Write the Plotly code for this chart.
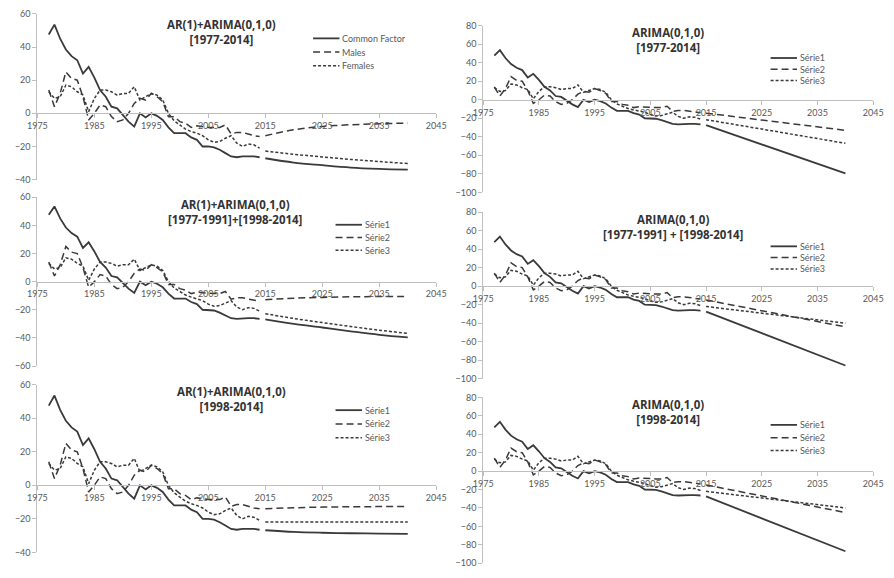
import plotly.graph_objects as go

# ---------------------------------------------------------------- data
hist_years = list(range(1977, 2015))

common_factor = [47.5, 53.5, 45, 38.5, 34.5, 32, 24, 28, 21.5, 14,
                 10, 4, 3, -1, -5, -8, 0, -2.5, 0, -1.5,
                 -4, -8.5, -12, -12, -12, -14.5, -16, -20, -20, -20.5,
                 -22, -24, -26, -26.5, -26, -26, -26, -26.5]
males = [14, 4, 12, 25, 21, 20, 10, -4, 0, 5,
         4, -2, -5, -4, 0, 6, 9, 8, 12, 10,
         7, -2, -2, -5, -6, -8.5, -7.5, -8, -8.5, -8.5,
         -8.5, -7, -12.5, -11.5, -11.5, -12.5, -13.5, -14]
females = [13, 9, 10, 17, 16, 13, 11, 1, 9, 14,
           14, 13, 11, 12, 12, 16, 8, 10, 12, 11,
           8, 0, -4.5, -7, -9.5, -11, -12, -13.5, -16, -17.5,
           -17, -15, -13.5, -18, -20, -18.5, -19, -21]

# AR(1)+ARIMA(0,1,0) projections, read every five years
curve_years = [2015, 2020, 2025, 2030, 2035, 2040]
ar_full_cf = [-27.1, -29.7, -31.3, -32.7, -33.5, -34.0]
ar_full_m = [-13.5, -9.9, -7.9, -6.9, -6.3, -5.9]
ar_full_f = [-22.8, -24.7, -26.3, -27.8, -29.1, -30.3]

ar_split_cf = [-26.8, -30.0, -32.6, -35.3, -37.8, -39.6]
ar_split_m = [-12.8, -11.8, -11.2, -10.8, -10.6, -10.5]
ar_split_f = [-22.8, -26.2, -29.1, -31.9, -34.5, -36.8]

ar_recent_cf = [-26.8, -27.8, -28.3, -28.6, -28.8, -28.9]
ar_recent_m = [-14.0, -13.4, -13.0, -12.8, -12.7, -12.7]
ar_recent_f = [-21.9, -21.9, -21.9, -21.9, -21.9, -21.9]

# ARIMA(0,1,0) projections are straight lines: start and end values
line_years = [2015, 2040]
arima_full_s1 = [-27.5, -79.4]
arima_full_s2 = [-14.5, -33.0]
arima_full_s3 = [-21.5, -47.0]

arima_split_s1 = [-27.5, -85.7]
arima_split_s2 = [-15.0, -44.0]
arima_split_s3 = [-22.0, -40.0]

arima_recent_s1 = [-27.5, -87.0]
arima_recent_s2 = [-15.0, -45.0]
arima_recent_s3 = [-22.0, -40.0]

x_ticks = [1975, 1985, 1995, 2005, 2015, 2025, 2035, 2045]
x_tick_text = ["1975", "1985", "1995", "2005", "2015", "2025", "2035", "2045"]

sexes_names = ["Common Factor", "Males", "Females"]
serie_names = ["Série1", "Série2", "Série3"]

# ---------------------------------------------------------------- styling
W, H = 894, 578
INK = "#3a3a3a"
AXIS = "#bfbfbf"
LABEL = "#595959"
FONT = "Lato"
TITLE_FONT = "Open Sans"
STYLES = [
    dict(dash="solid", width=1.8),
    dict(dash="7px,4px", width=1.5),
    dict(dash="3px,2px", width=1.5),
]
COLS = [(28, 436), (484, 883)]

panels = [
    dict(col=0, top=8, bottom=177, yr=(-40, 60),
         title=("AR(1)+ARIMA(0,1,0)", "[1977-2014]"), tx=216, ty=26,
         names=sexes_names, lx=310, ly=(33, 47, 61),
         fx=curve_years, fc=(ar_full_cf, ar_full_m, ar_full_f), shape="spline"),
    dict(col=0, top=195, bottom=367, yr=(-60, 60),
         title=("AR(1)+ARIMA(0,1,0)", "[1977-1991]+[1998-2014]"), tx=230, ty=210,
         names=serie_names, lx=333, ly=(223, 236, 249),
         fx=curve_years, fc=(ar_split_cf, ar_split_m, ar_split_f), shape="spline"),
    dict(col=0, top=386, bottom=557, yr=(-40, 60),
         title=("AR(1)+ARIMA(0,1,0)", "[1998-2014]"), tx=227, ty=401,
         names=serie_names, lx=333, ly=(412, 426, 440),
         fx=curve_years, fc=(ar_recent_cf, ar_recent_m, ar_recent_f), shape="spline"),
    dict(col=1, top=20, bottom=190, yr=(-100, 80),
         title=("ARIMA(0,1,0)", "[1977-2014]"), tx=673, ty=35,
         names=serie_names, lx=778, ly=(53, 64.5, 76),
         fx=line_years, fc=(arima_full_s1, arima_full_s2, arima_full_s3), shape="linear"),
    dict(col=1, top=210, bottom=380, yr=(-100, 80),
         title=("ARIMA(0,1,0)", "[1977-1991] + [1998-2014]"), tx=678, ty=225,
         names=serie_names, lx=778, ly=(245, 256.5, 268),
         fx=line_years, fc=(arima_split_s1, arima_split_s2, arima_split_s3), shape="linear"),
    dict(col=1, top=399, bottom=568, yr=(-100, 80),
         title=("ARIMA(0,1,0)", "[1998-2014]"), tx=673, ty=414,
         names=serie_names, lx=778, ly=(427, 440, 453),
         fx=line_years, fc=(arima_recent_s1, arima_recent_s2, arima_recent_s3), shape="linear"),
]

history = [common_factor, males, females]

fig = go.Figure()
layout = dict(
    width=W, height=H, margin=dict(l=0, r=0, t=0, b=0),
    paper_bgcolor="white", plot_bgcolor="white", showlegend=False,
    font=dict(family=FONT, size=9, color=LABEL),
)
annotations = []
shapes = []

for i, p in enumerate(panels, start=1):
    xid = "x" if i == 1 else f"x{i}"
    yid = "y" if i == 1 else f"y{i}"
    xkey = "xaxis" if i == 1 else f"xaxis{i}"
    ykey = "yaxis" if i == 1 else f"yaxis{i}"
    left, right = COLS[p["col"]]
    ymin, ymax = p["yr"]
    top, bottom = p["top"], p["bottom"]
    zero_px = top + (ymax - 0) / (ymax - ymin) * (bottom - top)

    # horizontal axis crosses the vertical one at zero
    layout[xkey] = dict(
        domain=[left / W, right / W], range=[1975, 2045],
        anchor="free", position=1 - zero_px / H,
        tickvals=x_ticks, ticktext=x_tick_text,
        ticks="outside", ticklen=4, tickcolor=AXIS, tickwidth=1,
        showline=True, linecolor=AXIS, linewidth=1,
        showgrid=False, zeroline=False,
        tickfont=dict(family=FONT, size=9, color=LABEL),
    )
    layout[ykey] = dict(
        domain=[1 - bottom / H, 1 - top / H], range=[ymin, ymax],
        anchor=xid, dtick=20, tick0=0,
        ticks="outside", ticklen=4, tickcolor=AXIS, tickwidth=1,
        showline=True, linecolor=AXIS, linewidth=1,
        showgrid=False, zeroline=False,
        tickfont=dict(family=FONT, size=9, color=LABEL),
    )

    for k in range(3):
        st = STYLES[k]
        fig.add_trace(go.Scatter(
            x=hist_years, y=history[k], mode="lines", name=p["names"][k],
            xaxis=xid, yaxis=yid, hoverinfo="skip",
            line=dict(color=INK, width=st["width"], dash=st["dash"]),
        ))
        fig.add_trace(go.Scatter(
            x=p["fx"], y=p["fc"][k], mode="lines", name=p["names"][k],
            xaxis=xid, yaxis=yid, hoverinfo="skip",
            line=dict(color=INK, width=st["width"], dash=st["dash"],
                      shape=p["shape"], smoothing=1.0),
        ))

        # legend key and label
        ly = 1 - p["ly"][k] / H
        shapes.append(dict(
            type="line", xref="paper", yref="paper",
            x0=p["lx"] / W, x1=(p["lx"] + 27) / W, y0=ly, y1=ly,
            line=dict(color=INK, width=st["width"], dash=st["dash"]),
        ))
        annotations.append(dict(
            xref="paper", yref="paper", x=(p["lx"] + 28) / W, y=ly,
            xanchor="left", yanchor="middle", showarrow=False,
            text=p["names"][k], font=dict(family=FONT, size=9, color=LABEL),
        ))

    annotations.append(dict(
        xref="paper", yref="paper", x=p["tx"] / W, y=1 - p["ty"] / H,
        xanchor="center", yanchor="middle", showarrow=False, align="center",
        text="<b>" + "</b><br><b>".join(p["title"]) + "</b>",
        font=dict(family=TITLE_FONT, size=11.5, color="#333333"),
    ))

layout["annotations"] = annotations
layout["shapes"] = shapes
fig.update_layout(**layout)
fig.write_html("out.html")
